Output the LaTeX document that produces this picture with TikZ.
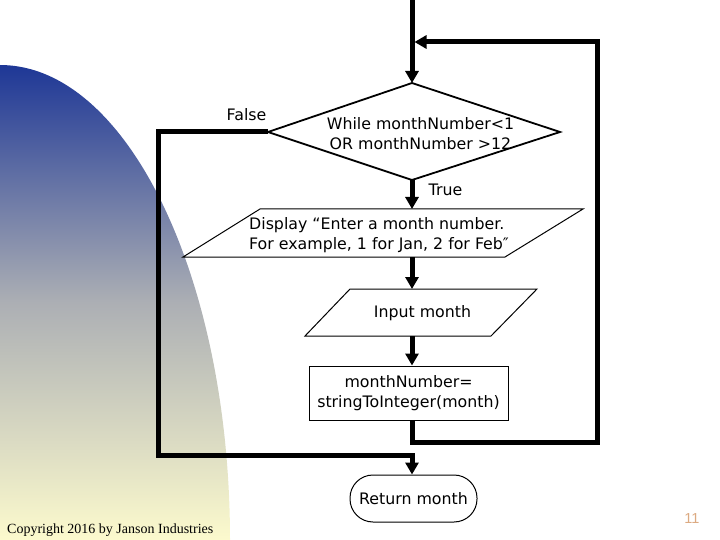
\documentclass[tikz,border=0pt]{standalone}
\usepackage{fontspec}
\setmainfont{DejaVu Sans}
\newfontfamily\serifcr{Liberation Serif}
\newfontfamily\pagefont{Liberation Sans}
\usetikzlibrary{arrows.meta}
\definecolor{topblue}{RGB}{30,55,150}
\definecolor{midgray}{RGB}{172,175,180}
\definecolor{botyel}{RGB}{252,250,205}
\definecolor{pagenum}{RGB}{220,170,130}
\begin{document}
\begin{tikzpicture}[x=1pt,y=-1pt,
  flow/.style={line width=5pt, line join=miter},
  tip/.style={-{Triangle[width=13pt,length=12pt]}},
  thinline/.style={line width=1pt},
  txt/.style={font=\fontsize{15.8}{20}\selectfont, inner sep=0pt, align=center},
  lbl/.style={font=\fontsize{15.8}{20}\selectfont, inner sep=0pt, anchor=base},
]
\useasboundingbox (0,0) rectangle (720,540);
% background gradient shape
\shade[top color=topblue, bottom color=botyel, middle color=midgray]
  (0,540) -- (0,65) .. controls (127,65) and (230,278) .. (230,540) -- cycle;

% decision diamond
\coordinate (start) at (412,0);
\coordinate (dT) at (412,83);
\coordinate (dL) at (268,132);
\coordinate (dR) at (560,132);
\coordinate (dB) at (412,180);
\draw[line width=1.8pt, line join=miter] (dT) -- (dR) -- (dB) -- (dL) -- cycle;
\node[txt] (dtext) at (420.5,134) {While monthNumber<1\\OR monthNumber >12};

% display parallelogram
\coordinate (p1tl) at (260,209);
\coordinate (p1tr) at (583,209);
\coordinate (p1br) at (505,257);
\coordinate (p1bl) at (183,257);
\coordinate (p1top) at (412,209);
\coordinate (p1bot) at (412,257);
\draw[thinline] (p1tl) -- (p1tr) -- (p1br) -- (p1bl) -- cycle;
\node[txt, align=left, anchor=west] (p1text) at (249,235)
  {Display “Enter a month number.\\For example, 1 for Jan, 2 for Feb″};

% input parallelogram
\coordinate (p2tl) at (350,289);
\coordinate (p2tr) at (537,289);
\coordinate (p2br) at (491,336);
\coordinate (p2bl) at (305,336);
\coordinate (p2top) at (412,289);
\coordinate (p2bot) at (412,336);
\draw[thinline] (p2tl) -- (p2tr) -- (p2br) -- (p2bl) -- cycle;
\node[lbl] (p2text) at (422.5,317) {Input month};

% process box
\node[draw, thinline, minimum width=199pt, minimum height=54pt, inner sep=0pt,
      font=\fontsize{15.8}{20}\selectfont, align=center] (box) at (408.5,393)
  {monthNumber=\\stringToInteger(month)};

% terminal
\node[draw, thinline, rounded corners=23pt, minimum width=127pt, minimum height=47pt,
      inner sep=0pt, font=\fontsize{15.8}{20}\selectfont] (ret) at (413.5,498.5) {Return month};

% labels
\node[lbl] (false) at (246.5,121) {False};
\node[lbl] (true) at (445.5,196) {True};

% connectors
\coordinate (loopR) at (597,442);
\coordinate (loopTop) at (597,42);
\coordinate (loopEnd) at (414.5,42);
\coordinate (fL) at (158,132);
\coordinate (fB) at (158,455);
\draw[flow,tip] (start) -- (dT);
\draw[flow,tip] (dB) -- (p1top);
\draw[flow,tip] (p1bot) -- (p2top);
\draw[flow,tip] (p2bot) -- (start |- box.north);
\draw[flow,tip] (start |- box.south) |- (loopR) -- (loopTop) -- (loopEnd);
\draw[flow,tip] (dL) -- (fL) -- (fB) -| (start |- ret.north);

% footer
\node[font=\serifcr\fontsize{14}{16}\selectfont, anchor=base west, inner sep=0pt] (copy)
  at (7,533) {Copyright 2016 by Janson Industries};
\node[font=\pagefont\fontsize{14.5}{16}\selectfont, text=pagenum, anchor=base, inner sep=0pt] (page)
  at (692,523) {11};
\end{tikzpicture}
\end{document}
